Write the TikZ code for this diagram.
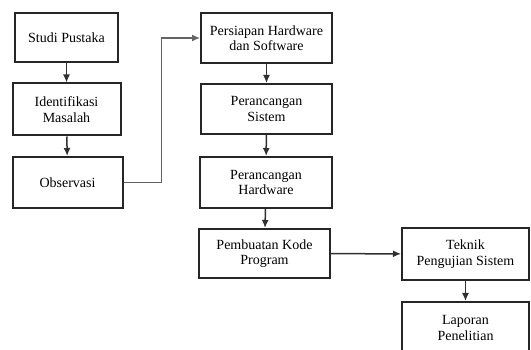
\documentclass[tikz,border=0pt]{standalone}
\usepackage{fontspec}
\setmainfont{Liberation Serif}
\usepackage{tikz}
\usetikzlibrary{positioning}
\usetikzlibrary{arrows.meta}
\definecolor{mybox}{HTML}{262626}
\definecolor{myline}{HTML}{303030}

\begin{document}
\begin{tikzpicture}[x=1pt,y=-1pt,
		blok/.style={draw=mybox, line width=2pt, rectangle, align=center, inner sep=2pt,
			font=\fontsize{14}{15.5}\selectfont, minimum width=131pt, minimum height=50pt},
		panah/.style={draw=myline, line width=1.5pt, -{Latex[length=8pt,width=7pt]}}]
		%% The page is fixed to the size of the picture, so the last box is cut at the bottom.
		\useasboundingbox (0,0) rectangle (531,350);
		%% Left column
		\node[blok, minimum width=103pt, minimum height=49pt] (studi) at (66.5,37.5) {Studi Pustaka};
		\node[blok, minimum width=108pt, minimum height=52pt] (identifikasi) at (66.5,109.5) {Identifikasi\\Masalah};
		\node[blok, minimum width=110pt, minimum height=51pt] (observasi) at (67.5,182.5) {Observasi};
		%% Middle column
		\node[blok] (persiapan) at (266.5,38) {Persiapan Hardware\\dan Software};
		\node[blok] (rancangsistem) at (266.5,109) {Perancangan\\Sistem};
		\node[blok, minimum width=132pt, minimum height=51pt] (rancanghw) at (266,182.5) {Perancangan\\Hardware};
		\node[blok, minimum height=49pt] (kode) at (264.5,253.5) {Pembuatan Kode\\Program};
		%% Right column
		\node[blok, minimum width=127pt, minimum height=52pt] (teknik) at (465.5,254) {Teknik\\Pengujian Sistem};
		\node[blok, minimum width=127pt, minimum height=52pt] (laporan) at (465.5,328) {Laporan\\Penelitian};
		%% Connectors
		\draw[panah] (studi) -- (identifikasi);
		\draw[panah] (identifikasi) -- (observasi);
		\draw[panah, draw=myline!75, line width=1.2pt] (observasi.east) -- ++(38,0) |- (persiapan.west);
		\draw[panah] (persiapan) -- (rancangsistem);
		\draw[panah] (rancangsistem) -- (rancanghw);
		\draw[panah] (rancanghw) -- (kode);
		\draw[panah] (kode) -- (teknik);
		\draw[panah] (teknik) -- (laporan);
	\end{tikzpicture}
\end{document}
